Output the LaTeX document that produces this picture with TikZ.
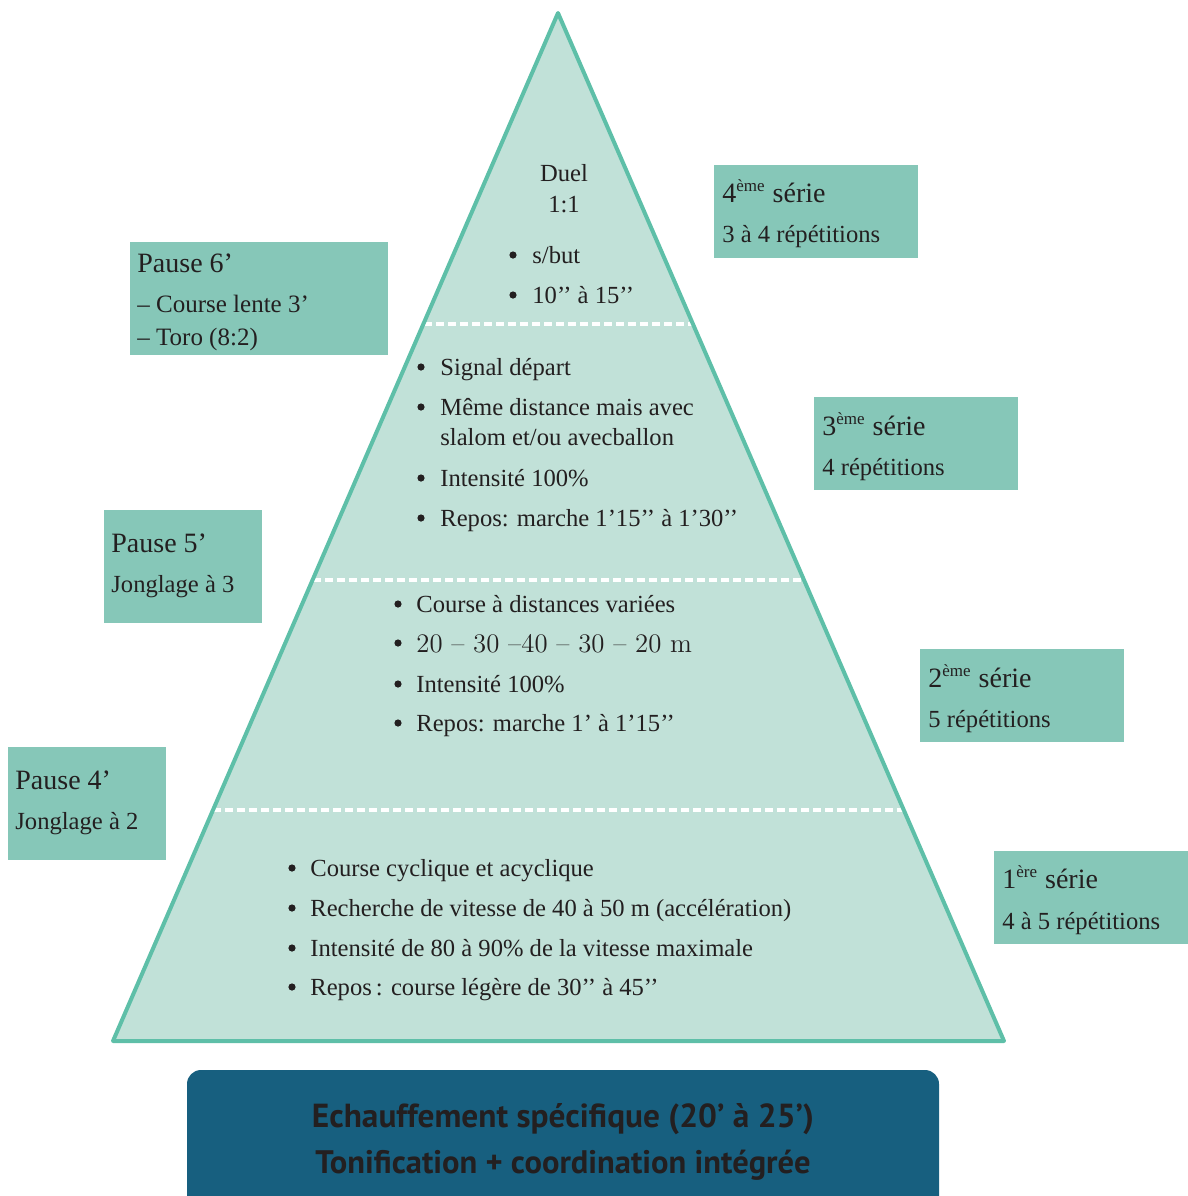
\documentclass[tikz,border=0pt]{standalone}
\usepackage{fontspec}
\setmainfont{Liberation Serif}
\newfontfamily\boxsans{PT Sans}
\newfontfamily\lmfont[Ligatures=TeX]{Latin Modern Roman}
\definecolor{pyrfill}{HTML}{C1E1D8}
\definecolor{pyrline}{HTML}{5EBFA8}
\definecolor{boxfill}{HTML}{86C7B8}
\definecolor{basefill}{HTML}{175F7F}
\definecolor{ink}{HTML}{231F20}
\tikzset{
  txt/.style={anchor=base west, inner sep=0pt, text=ink, font=\fontsize{12.3}{14}\selectfont},
  hdr/.style={anchor=base west, inner sep=0pt, text=ink, font=\fontsize{14}{16}\selectfont},
  ctr/.style={anchor=base, inner sep=0pt, text=ink, font=\fontsize{12.3}{14}\selectfont},
  sidebox/.style={fill=boxfill, draw=none},
  sep/.style={draw=white, line width=1.6pt, dash pattern=on 4pt off 2pt},
  bul/.style={fill=ink}
}
\newcommand{\sx}[1]{\textsuperscript{\fontsize{8.5}{9}\selectfont #1}}
\begin{document}
\begin{tikzpicture}[x=0.5pt,y=-0.5pt]
\useasboundingbox (0,0) rectangle (1188,1196);
% pyramid
\coordinate (apex) at (558,13);
\coordinate (bl) at (113,1041);
\coordinate (br) at (1004,1041);
\fill[pyrfill] (apex) -- (br) -- (bl) -- cycle;
\coordinate (d1l) at (424,324); \coordinate (d1r) at (693,324);
\coordinate (d2l) at (313,580); \coordinate (d2r) at (804,580);
\coordinate (d3l) at (213,810); \coordinate (d3r) at (904,810);
\draw[sep] (d1l) -- (d1r);
\draw[sep] (d2l) -- (d2r);
\draw[sep] (d3l) -- (d3r);
\draw[pyrline, line width=2pt, line join=round] (apex) -- (br) -- (bl) -- cycle;

% top section
\node[ctr] (duel) at (564,181) {Duel};
\node[ctr] (oneone) at (564,212) {1:1};
\fill[bul] (513,255) circle (3.6);
\node[txt] (sbut) at (532,263) {s/but};
\fill[bul] (513,295) circle (3.6);
\node[txt] (tenfif) at (532,303) {10’’ à 15’’};

% section 2
\fill[bul] (421,367) circle (3.6);
\node[txt] (s2a) at (440,375) {Signal départ};
\fill[bul] (421,407) circle (3.6);
\node[txt] (s2b) at (440,415) {Même distance mais avec};
\node[txt] (s2c) at (440,445) {slalom et/ou avecballon};
\fill[bul] (421,478) circle (3.6);
\node[txt] (s2d) at (440,486) {Intensité 100\%};
\fill[bul] (421,518) circle (3.6);
\node[txt] (s2e) at (440,526) {Repos: marche 1’15’’ à 1’30’’};

% section 3
\fill[bul] (398,604) circle (3.6);
\node[txt] (s3a) at (416,612) {Course à distances variées};
\fill[bul] (398,643) circle (3.6);
\node[txt, font=\lmfont\fontsize{13.4}{15}\selectfont] (s3b) at (416,652) {20 – 30 –40 – 30 – 20 m};
\fill[bul] (398,684) circle (3.6);
\node[txt] (s3c) at (416,692) {Intensité 100\%};
\fill[bul] (398,723) circle (3.6);
\node[txt] (s3d) at (416,731) {Repos: marche 1’ à 1’15’’};

% section 4
\fill[bul] (292,868) circle (3.6);
\node[txt] (s4a) at (310,876) {Course cyclique et acyclique};
\fill[bul] (292,908) circle (3.6);
\node[txt] (s4b) at (310,916) {Recherche de vitesse de 40 à 50 m (accélération)};
\fill[bul] (292,948) circle (3.6);
\node[txt] (s4c) at (310,956) {Intensité de 80 à 90\% de la vitesse maximale};
\fill[bul] (292,987) circle (3.6);
\node[txt] (s4d) at (310,995) {Repos\,: course légère de 30’’ à 45’’};

% right boxes (séries)
\fill[sidebox] (714,165) rectangle (918,258);
\node[hdr] (ser4) at (722,202) {4\sx{ème} série};
\node[txt] (rep4) at (722,242) {3 à 4 répétitions};

\fill[sidebox] (814,397) rectangle (1018,490);
\node[hdr] (ser3) at (822,435) {3\sx{ème} série};
\node[txt] (rep3) at (822,475) {4 répétitions};

\fill[sidebox] (920,649) rectangle (1124,742);
\node[hdr] (ser2) at (928,687) {2\sx{ème} série};
\node[txt] (rep2) at (928,727) {5 répétitions};

\fill[sidebox] (994,851) rectangle (1188,944);
\node[hdr] (ser1) at (1002,888) {1\sx{ère} série};
\node[txt] (rep1) at (1002,929) {4 à 5 répétitions};

% left boxes (pauses)
\fill[sidebox] (130,242) rectangle (388,355);
\node[hdr] (p6) at (137,272) {Pause 6’};
\node[txt, font=\fontsize{12.5}{14}\selectfont] (p6a) at (137,312) {– Course lente 3’};
\node[txt, font=\fontsize{12.5}{14}\selectfont] (p6b) at (137,345) {– Toro (8:2)};

\fill[sidebox] (104,510) rectangle (262,623);
\node[hdr] (p5) at (111,552) {Pause 5’};
\node[txt] (p5a) at (111,592) {Jonglage à 3};

\fill[sidebox] (8,747) rectangle (166,860);
\node[hdr] (p4) at (15,789) {Pause 4’};
\node[txt] (p4a) at (15,829) {Jonglage à 2};

% bottom box
\fill[basefill, rounded corners=7pt] (187,1070) rectangle (939,1230);
\node[anchor=base, inner sep=0pt, text=ink, font=\boxsans\bfseries\fontsize{16}{18}\selectfont] (b1) at (563,1127)
  {\resizebox{251pt}{!}{Echauffement spécifique (20’ à 25’)}};
\node[anchor=base, inner sep=0pt, text=ink, font=\boxsans\bfseries\fontsize{16}{18}\selectfont] (b2) at (563,1173)
  {\resizebox{247.5pt}{!}{Tonification + coordination intégrée}};
\end{tikzpicture}
\end{document}
